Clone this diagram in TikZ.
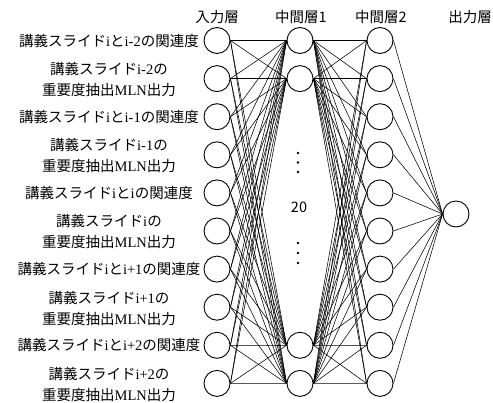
\documentclass[tikz,border=0pt]{standalone}
\usepackage{fontspec}
\setmainfont{Liberation Serif}
\newfontfamily\jp{Noto Sans CJK JP}
\newcommand\myKg{{\jp 講義スライド}}
\newcommand\myRel[1]{\myKg i{\jp と}#1{\jp の関連度}}
\newcommand\myImp[1]{\myKg #1{\jp の}\\{\jp 重要度抽出}MLN{\jp 出力}}
\begin{document}
\begin{tikzpicture}[x=1pt,y=-1pt,
  neuron/.style={circle,draw,line width=0.9pt,minimum size=26pt,inner sep=0pt},
  conn/.style={line width=0.55pt},
  lbl/.style={align=center,font=\fontsize{14.5}{21}\selectfont,inner sep=0pt},
  hdr/.style={font=\jp\fontsize{14.5}{17}\selectfont,inner sep=0pt}]
\useasboundingbox (0,0) rectangle (493,402);
\foreach \i in {1,...,10} {
  \pgfmathsetmacro\yy{40.5+38.1*(\i-1)}
  \node[neuron] (in\i) at (217,\yy) {};
  \node[neuron] (hb\i) at (380,\yy) {};
}
\node[neuron] (ha1) at (300,40.5) {};
\node[neuron] (ha2) at (300,78.6) {};
\node[neuron] (ha9) at (300,345.3) {};
\node[neuron] (ha10) at (300,383.4) {};
\node[neuron] (out) at (456,214) {};
\foreach \i in {1,...,10} {
  \foreach \j in {1,2,9,10} {
    \draw[conn] (in\i.east) -- (ha\j.west);
    \draw[conn] (ha\j.east) -- (hb\i.west);
  }
  \draw[conn] (hb\i.east) -- (out.west);
}
\foreach \y in {153,162.5,172,243,253,263} \fill (298,\y) circle (1.4pt);
\node[font=\jp\fontsize{14.5}{17}\selectfont,inner sep=0pt] (n20) at (299,207) {20};
\node[hdr] (h0) at (217,17) {入力層};
\node[hdr] (h1) at (301,17) {中間層1};
\node[hdr] (h2) at (381,17) {中間層2};
\node[hdr] (h3) at (470,17) {出力層};
\node[lbl] (l1) at (109,40.5) {\myRel{i-2}};
\node[lbl] (l2) at (109,79.6) {\myImp{i-2}};
\node[lbl] (l3) at (109,116.7) {\myRel{i-1}};
\node[lbl] (l4) at (109,155.8) {\myImp{i-1}};
\node[lbl] (l5) at (109,192.9) {\myRel{i}};
\node[lbl] (l6) at (109,232) {\myImp{i}};
\node[lbl] (l7) at (109,269.1) {\myRel{i+1}};
\node[lbl] (l8) at (109,308.2) {\myImp{i+1}};
\node[lbl] (l9) at (109,345.3) {\myRel{i+2}};
\node[lbl] (l10) at (109,384.4) {\myImp{i+2}};
\end{tikzpicture}
\end{document}
